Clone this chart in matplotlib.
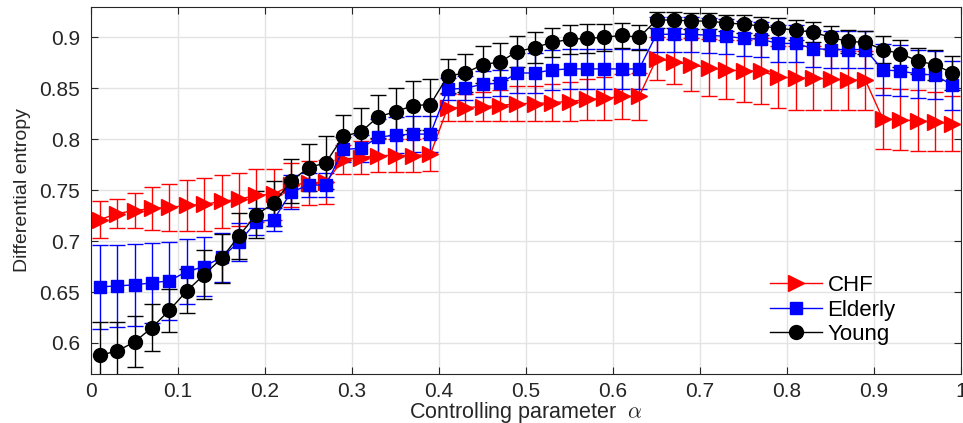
#!/usr/bin/python3
# Differential entropy vs controlling parameter alpha for three groups

import numpy as np
import matplotlib
matplotlib.use("Agg")
import matplotlib.pyplot as plt

plt.rcParams["font.family"] = ["Liberation Sans", "DejaVu Sans"]
plt.rcParams["mathtext.fontset"] = "cm"

# Controlling parameter values
alpha = np.round(np.arange(0.01, 1.0, 0.02), 2)

# Mean differential entropy and error per group
chf = [0.721, 0.727, 0.730, 0.732, 0.733, 0.735, 0.736, 0.739, 0.741, 0.745,
       0.746, 0.755, 0.757, 0.758, 0.780, 0.782, 0.784, 0.784, 0.784, 0.785,
       0.831, 0.831, 0.832, 0.833, 0.835, 0.835, 0.836, 0.837, 0.839, 0.840,
       0.842, 0.842, 0.879, 0.876, 0.873, 0.870, 0.868, 0.867, 0.867, 0.861,
       0.860, 0.860, 0.859, 0.858, 0.858, 0.820, 0.819, 0.818, 0.817, 0.815]
chf_err = [0.018, 0.014, 0.017, 0.021, 0.023, 0.025, 0.026, 0.026, 0.026, 0.026,
           0.025, 0.022, 0.022, 0.022, 0.014, 0.016, 0.016, 0.016, 0.016, 0.016,
           0.013, 0.013, 0.014, 0.015, 0.017, 0.017, 0.018, 0.019, 0.020, 0.021,
           0.022, 0.023, 0.021, 0.022, 0.026, 0.028, 0.029, 0.030, 0.032, 0.030,
           0.031, 0.031, 0.030, 0.029, 0.029, 0.030, 0.030, 0.030, 0.029, 0.027]

elderly = [0.655, 0.656, 0.657, 0.659, 0.661, 0.670, 0.675, 0.684, 0.699, 0.719,
           0.721, 0.748, 0.755, 0.755, 0.790, 0.791, 0.802, 0.804, 0.805, 0.805,
           0.849, 0.850, 0.854, 0.855, 0.865, 0.865, 0.868, 0.869, 0.869, 0.869,
           0.869, 0.869, 0.903, 0.903, 0.903, 0.902, 0.901, 0.899, 0.898, 0.894,
           0.894, 0.889, 0.888, 0.888, 0.888, 0.868, 0.867, 0.864, 0.863, 0.853]
elderly_err = [0.041, 0.040, 0.040, 0.039, 0.038, 0.032, 0.029, 0.024, 0.019, 0.013,
               0.011, 0.017, 0.012, 0.012, 0.012, 0.013, 0.018, 0.018, 0.018, 0.018,
               0.011, 0.012, 0.013, 0.013, 0.020, 0.020, 0.020, 0.020, 0.020, 0.020,
               0.020, 0.020, 0.017, 0.017, 0.017, 0.017, 0.017, 0.017, 0.017, 0.018,
               0.018, 0.018, 0.018, 0.018, 0.018, 0.025, 0.025, 0.024, 0.024, 0.024]

young = [0.588, 0.592, 0.601, 0.615, 0.632, 0.651, 0.667, 0.683, 0.705, 0.726,
         0.737, 0.759, 0.772, 0.777, 0.803, 0.807, 0.822, 0.827, 0.833, 0.834,
         0.862, 0.865, 0.873, 0.876, 0.886, 0.890, 0.895, 0.898, 0.899, 0.900,
         0.902, 0.900, 0.917, 0.917, 0.916, 0.916, 0.914, 0.913, 0.911, 0.909,
         0.907, 0.905, 0.900, 0.896, 0.895, 0.888, 0.884, 0.877, 0.873, 0.865]
young_err = [0.033, 0.029, 0.025, 0.023, 0.021, 0.022, 0.024, 0.024, 0.023, 0.023,
             0.022, 0.022, 0.023, 0.026, 0.021, 0.024, 0.021, 0.023, 0.024, 0.025,
             0.017, 0.019, 0.018, 0.018, 0.015, 0.015, 0.014, 0.014, 0.014, 0.013,
             0.012, 0.012, 0.008, 0.008, 0.008, 0.008, 0.008, 0.009, 0.009, 0.010,
             0.010, 0.010, 0.011, 0.011, 0.011, 0.013, 0.013, 0.013, 0.015, 0.017]

xtick_labels = ["0", "0.1", "0.2", "0.3", "0.4", "0.5", "0.6", "0.7", "0.8", "0.9", "1"]
ytick_vals = [0.6, 0.65, 0.7, 0.75, 0.8, 0.85, 0.9]

fig = plt.figure(figsize=(9.63, 4.23), dpi=100)
ax = fig.add_axes([0.0945, 0.117, 0.9035, 0.867])

ax.grid(True, color="#e3e3e3", lw=1)
ax.set_axisbelow(True)

series = [(chf, chf_err, "red", ">", 11, "CHF"),
          (elderly, elderly_err, "blue", "s", 8, "Elderly"),
          (young, young_err, "black", "o", 10, "Young")]
handles = []
for vals, err, col, mk, ms, name in series:
    c = ax.errorbar(alpha, vals, yerr=err, color=col, lw=1, marker=mk, ms=ms,
                    mec=col, capsize=6, elinewidth=1, label=name)
    handles.append(c[0])

ax.set_xlim(0, 1)
ax.set_ylim(0.57, 0.93)
ax.set_xticks(np.linspace(0, 1, 11))
ax.set_xticklabels(xtick_labels)
ax.set_yticks(ytick_vals)
ax.set_yticklabels([f"{v:g}" for v in ytick_vals])
ax.tick_params(direction="in", top=True, right=True, labelsize=15, length=5,
               color="#262626", labelcolor="#262626")
ax.tick_params(axis="x", pad=6)
ax.tick_params(axis="y", pad=8)
for s in ax.spines.values():
    s.set_color("#262626")

ax.set_xlabel(r"Controlling parameter  $\alpha$", fontsize=15.5, color="#262626", labelpad=-0.5)
ax.set_ylabel("Differential entropy", fontsize=14, color="#262626", labelpad=6)

ax.legend(handles, ["CHF", "Elderly", "Young"], loc="upper left",
          bbox_to_anchor=(0.780, 0.268), frameon=False, fontsize=16,
          handlelength=2.35, handletextpad=0.25, labelspacing=0.15,
          borderpad=0, borderaxespad=0)

fig.savefig("out.png", dpi=100)
